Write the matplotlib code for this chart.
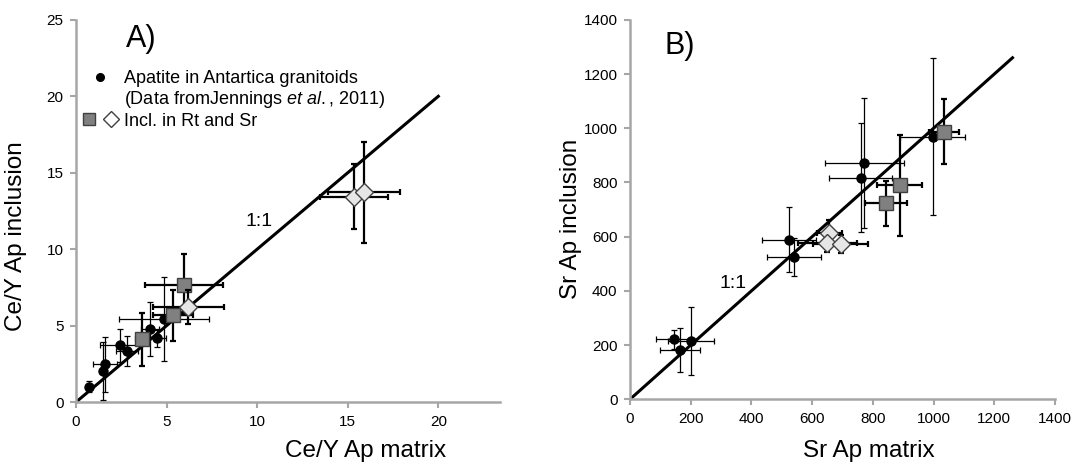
import matplotlib
matplotlib.use("Agg")
import matplotlib.pyplot as plt
from matplotlib.lines import Line2D
from matplotlib.legend_handler import HandlerTuple

plt.rcParams['font.family'] = 'Liberation Sans'
plt.rcParams['mathtext.fontset'] = 'custom'
plt.rcParams['mathtext.rm'] = 'Liberation Sans'
plt.rcParams['mathtext.it'] = 'Liberation Sans:italic'

# ---- panel A : Ce/Y ----
a_circ_x = [0.70, 1.47, 1.58, 2.45, 2.80, 4.08, 4.49, 4.87]
a_circ_y = [1.00, 2.05, 2.47, 3.71, 3.34, 4.78, 4.17, 5.45]
a_circ_xe = [0.10, 0.10, 0.66, 1.10, 0.60, 0.50, 0.50, 2.50]
a_circ_ye = [0.35, 1.90, 1.80, 1.10, 1.00, 1.75, 0.55, 2.75]

a_sq_x = [3.62, 5.37, 5.97]
a_sq_y = [4.10, 5.69, 7.68]
a_sq_xe = [0.30, 1.10, 2.15]
a_sq_ye = [1.75, 1.67, 2.00]

a_di_x = [6.21, 15.35, 15.90]
a_di_y = [6.22, 13.44, 13.72]
a_di_xe = [1.95, 1.90, 2.00]
a_di_ye = [1.10, 2.15, 3.30]

a_line = [0, 20]

# ---- panel B : Sr ----
b_circ_x = [144, 165, 201, 524, 540, 760, 771, 997]
b_circ_y = [222, 182, 216, 588, 524, 818, 873, 969]
b_circ_xe = [57, 66, 77, 90, 90, 103, 130, 106]
b_circ_ye = [35, 82, 125, 120, 70, 200, 240, 290]

b_sq_x = [842, 889, 1035]
b_sq_y = [723, 789, 987]
b_sq_xe = [69, 74, 50]
b_sq_ye = [84, 185, 120]

b_di_x = [657, 650, 694]
b_di_y = [613, 578, 573]
b_di_xe = [40, 97, 90]
b_di_ye = [50, 35, 35]

b_line = [0, 1260]

sq_face = '#808080'
di_face = '#e6e6e6'
edge = '#404040'
spine_col = '#a6a6a6'

fig = plt.figure(figsize=(10.76, 4.72), dpi=100)
axA = fig.add_axes([0.0706, 0.148, 0.394, 0.810])
axB = fig.add_axes([0.5855, 0.154, 0.395, 0.804])


def draw(ax, cx, cy, cxe, cye, sx, sy, sxe, sye, dx, dy, dxe, dye, line):
    ax.plot(line, line, color='black', lw=2.2, zorder=2)
    ax.errorbar(cx, cy, xerr=cxe, yerr=cye, fmt='o', color='black', ms=6.5,
                ecolor='black', elinewidth=0.9, capsize=2.5, capthick=0.9, zorder=3)
    ax.errorbar(sx, sy, xerr=sxe, yerr=sye, fmt='s', mfc=sq_face, mec=edge, ms=10,
                ecolor='black', elinewidth=1.6, capsize=2.5, capthick=1.6, zorder=4)
    ax.errorbar(dx, dy, xerr=dxe, yerr=dye, fmt='D', mfc=di_face, mec=edge, ms=9,
                ecolor='black', elinewidth=1.6, capsize=2.5, capthick=1.6, zorder=5)
    for s in ['top', 'right']:
        ax.spines[s].set_visible(False)
    for s in ['left', 'bottom']:
        ax.spines[s].set_color(spine_col)
        ax.spines[s].set_linewidth(1.8)
    ax.tick_params(direction='out', length=4, width=1.5, color=spine_col,
                   labelsize=11, pad=5)


draw(axA, a_circ_x, a_circ_y, a_circ_xe, a_circ_ye, a_sq_x, a_sq_y, a_sq_xe, a_sq_ye,
     a_di_x, a_di_y, a_di_xe, a_di_ye, a_line)
axA.set_xlim(0, 23.4)
axA.set_ylim(0, 25)
axA.set_xticks([0, 5, 10, 15, 20])
axA.set_yticks([0, 5, 10, 15, 20, 25])
axA.set_xlabel('Ce/Y Ap matrix', fontsize=17.5)
axA.set_ylabel('Ce/Y Ap inclusion', fontsize=17.5)
axA.xaxis.set_label_coords(0.682, -0.1)
axA.yaxis.set_label_coords(-0.115, 0.435)
axA.text(0.118, 0.95, 'A)', transform=axA.transAxes, fontsize=22, va='center')
axA.text(10.1, 11.8, '1:1', fontsize=14, ha='center', va='center')

h_circle = Line2D([], [], ls='none', marker='o', color='black', ms=5.5)
h_blank = Line2D([], [], ls='none')
h_sq = Line2D([], [], ls='none', marker='s', mfc=sq_face, mec=edge, ms=9)
h_di = Line2D([], [], ls='none', marker='D', mfc='white', mec=edge, ms=8)
labels = ['Apatite in Antartica granitoids',
          r'(Data fromJennings $\it{et\ al.}$, 2011)',
          'Incl. in Rt and Sr']
axA.legend([h_circle, h_blank, (h_sq, h_di)], labels,
           handler_map={tuple: HandlerTuple(ndivide=None, pad=0.4)},
           loc='upper left', bbox_to_anchor=(0.014, 0.868), frameon=False,
           fontsize=13, labelspacing=0.12, handlelength=2.0, handletextpad=0.35,
           borderpad=0, borderaxespad=0)

draw(axB, b_circ_x, b_circ_y, b_circ_xe, b_circ_ye, b_sq_x, b_sq_y, b_sq_xe, b_sq_ye,
     b_di_x, b_di_y, b_di_xe, b_di_ye, b_line)
axB.set_xlim(0, 1400)
axB.set_ylim(0, 1400)
axB.set_xticks(range(0, 1401, 200))
axB.set_yticks(range(0, 1401, 200))
axB.set_xlabel('Sr Ap matrix', fontsize=17.5)
axB.set_ylabel('Sr Ap inclusion', fontsize=17.5)
axB.xaxis.set_label_coords(0.562, -0.108)
axB.yaxis.set_label_coords(-0.113, 0.475)
axB.text(0.082, 0.931, 'B)', transform=axB.transAxes, fontsize=22, va='center')
axB.text(340, 428, '1:1', fontsize=14, ha='center', va='center')

fig.savefig('out.png', dpi=100)
